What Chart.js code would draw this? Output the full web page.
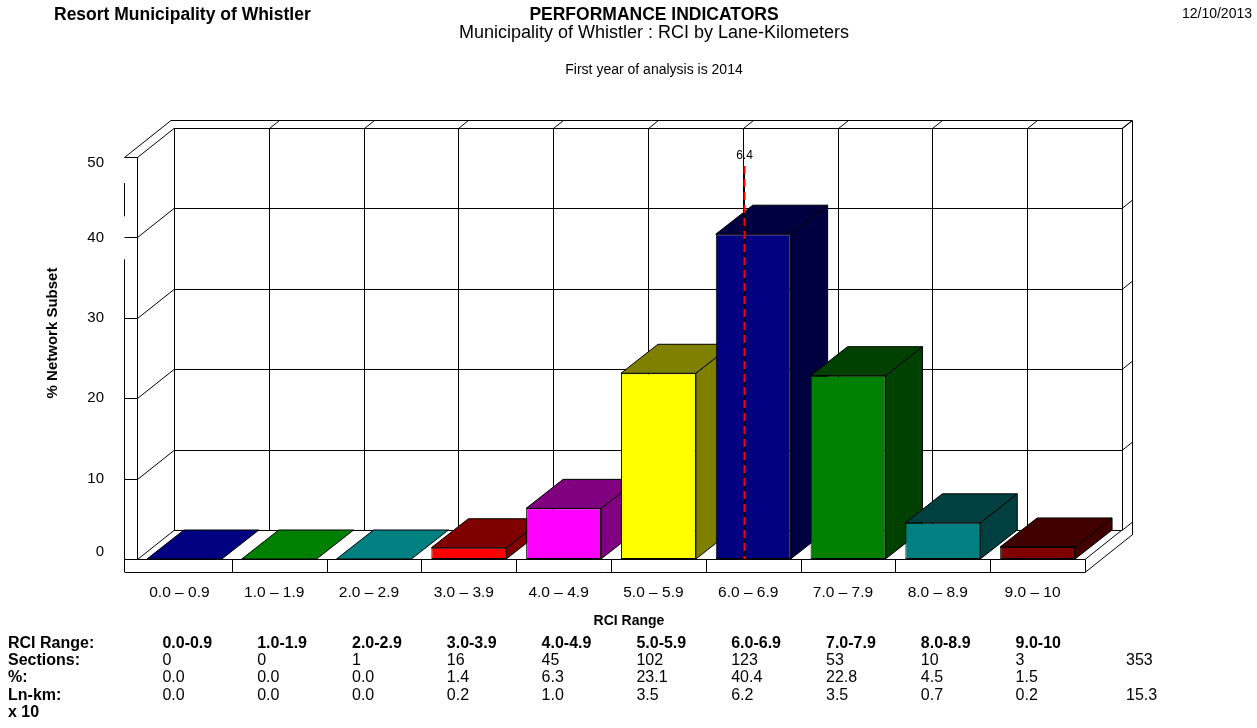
<!DOCTYPE html>
<html>
<head>
<meta charset="utf-8">
<title>RCI by Lane-Kilometers</title>
<script src="https://cdn.jsdelivr.net/npm/chart.js@4.4.1/dist/chart.umd.min.js"></script>
<style>
  html, body { margin: 0; padding: 0; background: #ffffff; }
  canvas { display: block; }
</style>
</head>
<body>
<canvas id="rciChart" width="1257" height="728"></canvas>
<script>
// ---- data ----
const rciRanges = ['0.0 – 0.9', '1.0 – 1.9', '2.0 – 2.9', '3.0 – 3.9', '4.0 – 4.9',
                   '5.0 – 5.9', '6.0 – 6.9', '7.0 – 7.9', '8.0 – 8.9', '9.0 – 10'];
const tableRanges = ['0.0-0.9', '1.0-1.9', '2.0-2.9', '3.0-3.9', '4.0-4.9',
                     '5.0-5.9', '6.0-6.9', '7.0-7.9', '8.0-8.9', '9.0-10'];
const sections = [0, 0, 1, 16, 45, 102, 123, 53, 10, 3];
const sectionsTotal = '353';
const percentShare = [0.0, 0.0, 0.0, 1.4, 6.3, 23.1, 40.4, 22.8, 4.5, 1.5];
const laneKm = [0.0, 0.0, 0.0, 0.2, 1.0, 3.5, 6.2, 3.5, 0.7, 0.2];
const laneKmTotal = '15.3';
const yTicks = [0, 10, 20, 30, 40, 50];
const meanRci = 6.4;

// ---- styles ----
const faceColors  = ['#000080', '#008000', '#008080', '#ff0000', '#ff00ff',
                     '#ffff00', '#000080', '#008000', '#008080', '#800000'];
const shadeColors = ['#000040', '#004000', '#004040', '#800000', '#800080',
                     '#808000', '#000040', '#004000', '#004040', '#400000'];
const FONT = '"Liberation Sans", Arial, Helvetica, sans-serif';
const DEPTH = { x: 37, y: -29 };   // oblique depth of the plot box
const RIM = { x: 10, y: -8 };      // thickness of the back wall
const SLAB = 13;                   // thickness of floor and left wall

function seg(ctx, x1, y1, x2, y2) {
  ctx.beginPath();
  ctx.moveTo(x1, y1);
  ctx.lineTo(x2, y2);
  ctx.stroke();
}
function quad(ctx, pts, fill) {
  ctx.beginPath();
  ctx.moveTo(pts[0][0], pts[0][1]);
  for (let i = 1; i < pts.length; i++) ctx.lineTo(pts[i][0], pts[i][1]);
  ctx.closePath();
  ctx.fillStyle = fill;
  ctx.fill();
  ctx.stroke();
}
function text(ctx, str, x, y, size, bold, align) {
  ctx.font = (bold ? 'bold ' : '') + size + 'px ' + FONT;
  ctx.textAlign = align || 'left';
  ctx.textBaseline = 'middle';
  ctx.fillStyle = '#000';
  ctx.fillText(str, x, y);
}

const box3d = {
  id: 'box3d',
  beforeDatasetsDraw(chart) {
    const ctx = chart.ctx;
    const ys = chart.scales.y;
    const L = chart.chartArea.left, R = chart.chartArea.right;
    const B = ys.getPixelForValue(0), T = ys.getPixelForValue(yTicks[yTicks.length - 1]);
    const n = rciRanges.length;
    const cw = (R - L) / n;
    ctx.save();
    ctx.strokeStyle = '#000';
    ctx.lineWidth = 1;

    // back wall grid
    for (let i = 0; i <= n; i++) {
      const bx = Math.round(L + i * cw + DEPTH.x) + 0.5;
      seg(ctx, bx, T + DEPTH.y, bx, B + DEPTH.y);
      if (i > 0) seg(ctx, bx, Math.round(T + DEPTH.y) + 0.5, bx + RIM.x, Math.round(T + DEPTH.y + RIM.y) + 0.5);
    }
    yTicks.forEach(v => {
      const y = Math.round(ys.getPixelForValue(v) + DEPTH.y) + 0.5;
      seg(ctx, L + DEPTH.x, y, R + DEPTH.x, y);
      seg(ctx, R + DEPTH.x, y, R + DEPTH.x + RIM.x, y + RIM.y);
    });
    // top rim and right edge of back wall
    const topOuter = Math.round(T + DEPTH.y + RIM.y) + 0.5;
    seg(ctx, L - SLAB + DEPTH.x + RIM.x, topOuter, R + DEPTH.x + RIM.x, topOuter);
    const rx = Math.round(R + DEPTH.x + RIM.x) + 0.5;
    seg(ctx, rx, topOuter, rx, B + SLAB + DEPTH.y + RIM.y);

    // left wall
    const lx = Math.round(L) + 0.5, lo = Math.round(L - SLAB) + 0.5;
    seg(ctx, lx, T, lx, B);
    yTicks.forEach(v => {
      const y = Math.round(ys.getPixelForValue(v)) + 0.5;
      seg(ctx, lo, y, lx, y);
      seg(ctx, lx, y, L + DEPTH.x, y + DEPTH.y);
    });
    seg(ctx, lo, Math.round(T) + 0.5, L - SLAB + DEPTH.x + RIM.x, topOuter);
    const y40 = ys.getPixelForValue(yTicks[yTicks.length - 2]);
    seg(ctx, lo, T + 26, lo, y40 - 21);
    seg(ctx, lo, y40 + 22, lo, B + SLAB);

    // floor slab
    const fb = Math.round(B + SLAB) + 0.5, ft = Math.round(B) + 0.5;
    seg(ctx, L, ft, R, ft);
    seg(ctx, lo, fb, R, fb);
    seg(ctx, Math.round(R) + 0.5, ft, Math.round(R) + 0.5, fb);
    for (let i = 1; i < n; i++) {
      const dx = Math.round(L + i * cw) + 0.5;
      seg(ctx, dx, ft, dx, fb);
    }
    seg(ctx, R, ft, R + DEPTH.x, B + DEPTH.y);
    seg(ctx, R, fb, R + DEPTH.x + RIM.x, B + SLAB + DEPTH.y + RIM.y);

    // top and side faces of each bar, left to right
    const meta = chart.getDatasetMeta(0);
    meta.data.forEach((bar, i) => {
      const p = bar.getProps(['x', 'y', 'base', 'width'], true);
      const x0 = p.x - p.width / 2, x1 = p.x + p.width / 2;
      const yt = p.y, yb = p.base;
      const flat = Math.abs(yb - yt) < 0.5;
      if (!flat) {
        quad(ctx, [[x1, yt], [x1 + DEPTH.x, yt + DEPTH.y], [x1 + DEPTH.x, yb + DEPTH.y], [x1, yb]], shadeColors[i]);
      }
      quad(ctx, [[x0, yt], [x1, yt], [x1 + DEPTH.x, yt + DEPTH.y], [x0 + DEPTH.x, yt + DEPTH.y]],
           flat ? faceColors[i] : shadeColors[i]);
    });
    ctx.restore();
  },
  afterDatasetsDraw(chart) {
    const ctx = chart.ctx;
    const ys = chart.scales.y;
    const B = ys.getPixelForValue(0), T = ys.getPixelForValue(yTicks[yTicks.length - 1]);
    const mx = Math.round(chart.scales.rci.getPixelForValue(meanRci)) + 0.5;
    ctx.save();
    ctx.strokeStyle = '#000';
    ctx.lineWidth = 1;
    seg(ctx, mx, T + 9, mx, B);
    ctx.strokeStyle = '#ff0000';
    ctx.lineWidth = 2;
    ctx.setLineDash([8, 5]);
    seg(ctx, mx, T + 9, mx, B);
    ctx.setLineDash([]);
    text(ctx, meanRci.toFixed(1), mx, T - 1, 12, false, 'center');
    ctx.restore();
  },
  afterDraw(chart) {
    const ctx = chart.ctx;
    const ys = chart.scales.y;
    const R = chart.chartArea.right;
    const B = ys.getPixelForValue(0), T = ys.getPixelForValue(yTicks[yTicks.length - 1]);
    const bars = chart.getDatasetMeta(0).data;
    ctx.save();

    // headings
    text(ctx, 'Resort Municipality of Whistler', 54, 15, 17.5, true, 'left');
    text(ctx, 'PERFORMANCE INDICATORS', 654, 15, 17.5, true, 'center');
    text(ctx, 'Municipality of Whistler : RCI by Lane-Kilometers', 654, 33, 18, false, 'center');
    text(ctx, 'First year of analysis is 2014', 654, 70, 14, false, 'center');
    text(ctx, '12/10/2013', 1252, 14, 14, false, 'right');

    // value axis
    yTicks.forEach(v => {
      const y = Math.min(Math.max(ys.getPixelForValue(v), T + 6), B - 7);
      text(ctx, String(v), 104, y, 15, false, 'right');
    });
    ctx.save();
    ctx.translate(53, 333);
    ctx.rotate(-Math.PI / 2);
    text(ctx, '% Network Subset', 0, 0, 15, true, 'center');
    ctx.restore();

    // category axis
    bars.forEach((bar, i) => text(ctx, rciRanges[i], bar.x - 5, 593, 15.5, false, 'center'));
    text(ctx, 'RCI Range', 629, 621, 14, true, 'center');

    // summary table
    const rows = [644, 661, 678, 696, 713];
    text(ctx, 'RCI Range:', 8, rows[0], 16, true);
    text(ctx, 'Sections:', 8, rows[1], 16, true);
    text(ctx, '%:', 8, rows[2], 16, true);
    text(ctx, 'Ln-km:', 8, rows[3], 16, true);
    text(ctx, 'x 10', 8, rows[4], 16, true);
    bars.forEach((bar, i) => {
      const cx = bar.x - 22;
      text(ctx, tableRanges[i], cx, rows[0], 16, true);
      text(ctx, String(sections[i]), cx, rows[1], 16, false);
      text(ctx, percentShare[i].toFixed(1), cx, rows[2], 16, false);
      text(ctx, laneKm[i].toFixed(1), cx, rows[3], 16, false);
    });
    text(ctx, sectionsTotal, R + 41, rows[1], 16, false);
    text(ctx, laneKmTotal, R + 41, rows[3], 16, false);
    ctx.restore();
  }
};

new Chart(document.getElementById('rciChart'), {
  type: 'bar',
  data: {
    labels: rciRanges,
    datasets: [{
      data: percentShare,
      backgroundColor: faceColors,
      borderColor: '#000000',
      borderWidth: 1,
      borderSkipped: false,
      barPercentage: 0.79,
      categoryPercentage: 1.0
    }]
  },
  options: {
    responsive: false,
    animation: false,
    devicePixelRatio: 1,
    layout: { padding: { left: 137, right: 172, top: 157, bottom: 169 } },
    plugins: { legend: { display: false }, tooltip: { enabled: false }, title: { display: false } },
    scales: {
      x: { type: 'category', display: false, offset: true },
      rci: { type: 'linear', axis: 'x', position: 'bottom', min: 0, max: 10, offset: false,
             grace: 0, display: false },
      y: { type: 'linear', min: 0, max: 50, display: false, ticks: { stepSize: 10 } }
    }
  },
  plugins: [box3d]
});
</script>
</body>
</html>
